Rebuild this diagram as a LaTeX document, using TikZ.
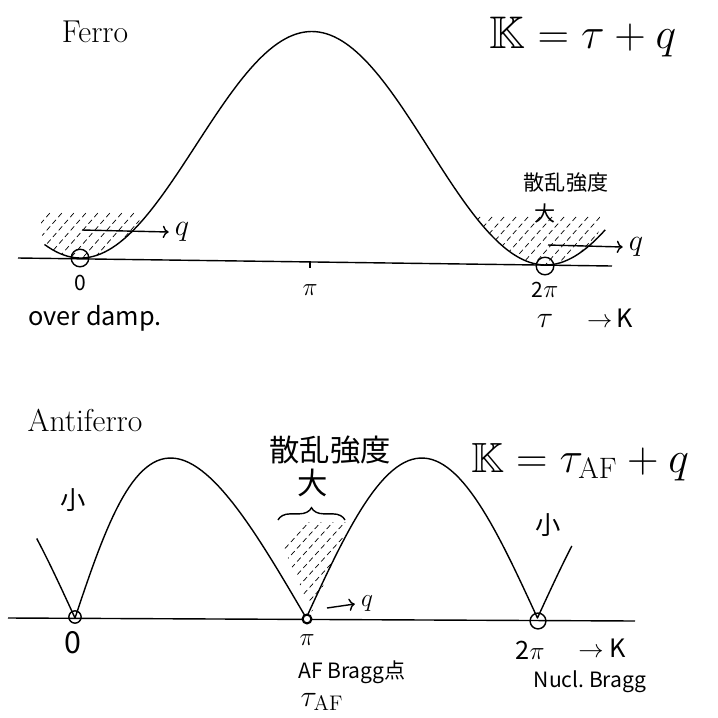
\documentclass[tikz,border=0pt]{standalone}
\usepackage{amsmath,amssymb}
\usepackage{fontspec}
\newfontfamily\jpfont{Noto Sans CJK JP}
\usetikzlibrary{arrows.meta,decorations.pathreplacing,positioning}

\begin{document}
\begin{tikzpicture}[
    x=0.02cm, y=-0.02cm,
    axis/.style={thick},
    curve/.style={thick,line join=round},
    hatch/.style={densely dashed,thin},
    bragg/.style={draw,thick,circle,inner sep=0pt,minimum size=#1},
    hand/.style={font=\jpfont#1,inner sep=1pt},
    title/.style={font=\fontsize{18}{20}\selectfont,inner sep=1pt},
    arr/.style={->,>=To,thick}]
    \useasboundingbox (0,0) rectangle (718,718);

    % Ferro: axis and dispersion
    \node[title] (ferro) at (95,32) {Ferro};
    \draw[axis] (18,258) -- (612,266);
    \draw[thick] (310,261) -- (310,268);
    \draw[curve] plot[domain=-0.48:7.1,samples=150]
      ({80+74*\x},{258+1.114*\x-115*(1-cos(\x r))});

    % Ferro: hatched regions
    \begin{scope}
      \clip plot[domain=-0.5:0.8,samples=30]
        ({80+74*\x},{258+1.114*\x-115*(1-cos(\x r))}) -- (140,212) -- (40,212) -- cycle;
      \foreach \i in {0,12,...,180}
        \draw[hatch] (\i,270) -- +(70,-80);
    \end{scope}
    \begin{scope}
      \clip plot[domain=5.35:7.0,samples=30]
        ({80+74*\x},{258+1.114*\x-115*(1-cos(\x r))}) -- (600,216) -- (476,216) -- cycle;
      \foreach \i in {400,412,...,620}
        \draw[hatch] (\i,280) -- +(80,-90);
    \end{scope}

    % Ferro: Bragg points and labels
    \node[bragg=10pt] (zeroF) at (80,258) {};
    \node[bragg=10pt] (twopiF) at (545,266) {};
    \node[hand=\large] (zeroFl) at (80,283) {0};
    \node (piFl) at (310,290) {\Large$\pi$};
    \node[hand=\large] (twopiFl) at (545,290) {2\Large$\pi$};
    \node[hand=\Large] (damp) at (95,318) {over damp.};
    \node (tauF) at (545,321) {\LARGE$\tau$};
    \node[hand=\Large] (kF) at (610,318) {$\to$\,K};

    \node (qF) at (182,232) {\LARGE$q$};
    \coordinate (qFs) at (82,230);
    \draw[arr] (qFs) -- (qF.west);
    \node (qF2) at (636,247) {\LARGE$q$};
    \coordinate (qF2s) at (548,245);
    \draw[arr] (qF2s) -- (qF2.west);

    \node[hand=\large] (intF) at (566,183) {散乱強度};
    \node[hand=\large] (bigF) at (545,213) {大};
    \node (eqF) at (583,37) {\fontsize{26}{30}\selectfont$\mathbb{K}=\tau+q$};

    % Antiferro: axis and dispersion
    \node[title] (antiferro) at (85,420) {Antiferro};
    \draw[axis] (8,618) -- (635,621);
    \draw[curve] plot[domain=-0.52:0,samples=10] ({75+73.6*\x},{618-160*abs(sin(\x r))})
      -- plot[domain=0:3.1416,samples=60] ({75+73.6*\x-20*sin(\x r)},{618-160*abs(sin(\x r))})
      -- plot[domain=3.1416:6.2832,samples=60] ({75+73.6*\x},{618-160*abs(sin(\x r))})
      -- plot[domain=6.2832:6.75,samples=10] ({75+73.6*\x},{618-160*abs(sin(\x r))});

    % Antiferro: hatched region
    \begin{scope}
      \clip (272,522) -- (350,522) -- (312,612) -- cycle;
      \foreach \i in {220,232,...,360}
        \draw[hatch] (\i,620) -- +(100,-110);
    \end{scope}
    \draw[thick,decorate,decoration={brace,amplitude=7pt}] (278,520) -- (345,520);

    % Antiferro: Bragg points and labels
    \node[bragg=7pt] (zeroA) at (75,617) {};
    \node[bragg=5pt,fill=white,very thick] (piA) at (307,619) {};
    \node[bragg=9pt] (twopiA) at (538,621) {};
    \node[hand=\LARGE] (zeroAl) at (73,643) {0};
    \node (piAl) at (307,640) {\Large$\pi$};
    \node[hand=\Large] (twopiAl) at (530,650) {2$\pi$};
    \node[hand=\Large] (kA) at (602,648) {$\to$ K};
    \node[hand=\large] (braggA) at (352,672) {AF Bragg点};
    \node (tauA) at (322,702) {\LARGE$\tau_{\text{AF}}$};
    \node[hand=\large] (nucl) at (590,682) {Nucl.\ Bragg};

    \node (qA) at (367,604) {\Large$q$};
    \coordinate (qAs) at (327,608);
    \draw[arr] (qAs) -- (qA.west);

    \node[hand=\Large] (smallL) at (73,500) {小};
    \node[hand=\Large] (smallR) at (548,525) {小};
    \node[hand=\LARGE] (intA) at (330,450) {散乱強度};
    \node[hand=\LARGE] (bigA) at (313,483) {大};
    \node (eqA) at (580,462) {\fontsize{24}{28}\selectfont$\mathbb{K}=\tau_{\text{AF}}+q$};
\end{tikzpicture}
\end{document}
